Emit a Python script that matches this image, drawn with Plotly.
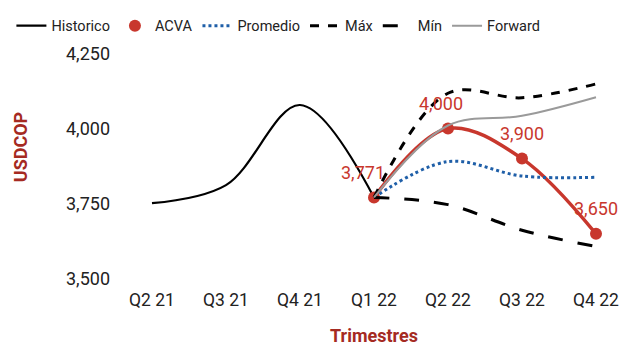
import plotly.graph_objects as go

quarters = ["Q2 21", "Q3 21", "Q4 21", "Q1 22", "Q2 22", "Q3 22", "Q4 22"]
hist_q = ["Q2 21", "Q3 21", "Q4 21", "Q1 22"]
hist_vals = [3752, 3812, 4078, 3771]
proj_q = ["Q1 22", "Q2 22", "Q3 22", "Q4 22"]
acva_vals = [3771, 4000, 3900, 3650]
promedio_vals = [3771, 3890, 3842, 3838]
max_vals = [3771, 4117, 4102, 4148]
min_vals = [3771, 3747, 3662, 3608]
forward_vals = [3771, 4010, 4042, 4104]
y_ticks = [3500, 3750, 4000, 4250]

RED = "#C8372D"
TITLE_RED = "#A52A22"
FONT = "Roboto"
TXT = "#222222"

fig = go.Figure()

fig.add_trace(go.Scatter(x=hist_q, y=hist_vals, name="Historico", mode="lines",
                         line=dict(color="black", width=2.2, shape="spline")))
# ACVA: smooth line (no legend entry) plus the point markers
fig.add_trace(go.Scatter(x=proj_q, y=acva_vals, name="ACVA", mode="lines",
                         showlegend=False, legendgroup="acva",
                         line=dict(color=RED, width=3.5, shape="spline")))
fig.add_trace(go.Scatter(x=proj_q, y=acva_vals, name="ACVA", mode="markers",
                         legendgroup="acva", marker=dict(color=RED, size=12)))
fig.add_trace(go.Scatter(x=proj_q, y=promedio_vals, name="Promedio", mode="lines",
                         line=dict(color="#1F5FA8", width=3, dash="dot", shape="spline")))
fig.add_trace(go.Scatter(x=proj_q, y=max_vals, name="Máx", mode="lines",
                         line=dict(color="black", width=3, dash="dash", shape="spline")))
fig.add_trace(go.Scatter(x=proj_q, y=min_vals, name="Mín", mode="lines",
                         line=dict(color="black", width=3, dash="longdash", shape="spline")))
fig.add_trace(go.Scatter(x=proj_q, y=forward_vals, name="Forward", mode="lines",
                         line=dict(color="#9A9A9A", width=2, shape="spline")))

# value labels above the ACVA points (nudged left where the curve rises)
label_xshift = [-11, -7, 0, 0]
for q, v, dx in zip(proj_q, acva_vals, label_xshift):
    fig.add_annotation(x=q, y=v, text=f"{v:,}", showarrow=False, yshift=25, xshift=dx,
                       font=dict(family=FONT, size=18, color=RED))

fig.update_layout(
    width=643, height=355,
    margin=dict(l=115, r=10, t=10, b=76),
    paper_bgcolor="white", plot_bgcolor="white",
    font=dict(family=FONT, size=15, color=TXT),
    showlegend=True,
    legend=dict(orientation="h", xref="paper", x=-0.2, xanchor="left",
                yref="paper", y=1.02, yanchor="top",
                font=dict(family=FONT, size=14.5, color=TXT),
                itemwidth=30, tracegroupgap=0, bgcolor="rgba(0,0,0,0)"),
    xaxis=dict(categoryorder="array", categoryarray=quarters, range=[-0.5, 6.5],
               showgrid=False, zeroline=False, showline=False, ticks="",
               ticklabelstandoff=8,
               tickfont=dict(family=FONT, size=17.5, color=TXT),
               title=dict(text="<b>Trimestres</b>", standoff=20,
                          font=dict(family=FONT, size=18, color=TITLE_RED))),
    yaxis=dict(range=[3500, 4377], tickvals=y_ticks, tickformat=",", showgrid=False,
               zeroline=False, showline=False, ticks="", ticklabelstandoff=4,
               tickfont=dict(family=FONT, size=18, color=TXT),
               title=dict(text="<b>USDCOP</b>", standoff=33,
                          font=dict(family=FONT, size=18, color=TITLE_RED))),
)

fig.write_html("out.html")
